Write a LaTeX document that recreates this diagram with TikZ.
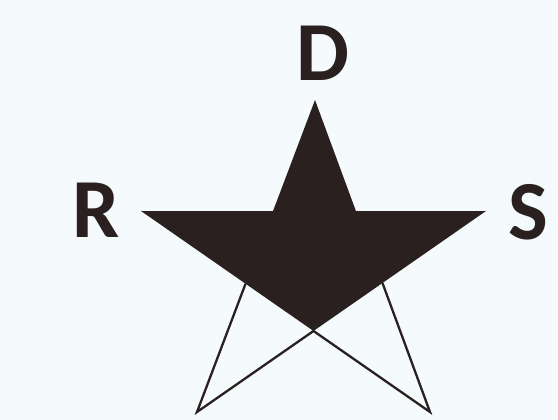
\documentclass[tikz,border=0pt]{standalone}
\usepackage{fontspec}
\setmainfont{Carlito}
\definecolor{paper}{RGB}{245,251,252}
\definecolor{ink}{RGB}{42,32,32}
\tikzset{
  lbl/.style={inner sep=0pt, text=ink, font=\fontsize{84}{84}\bfseries\selectfont},
  leg/.style={draw=ink, line width=2.3pt, line join=miter}
}
\begin{document}
\begin{tikzpicture}[x=1pt,y=-1pt]
  \fill[paper] (0,0) rectangle (558,420);
  \useasboundingbox (0,0) rectangle (558,420);
  % points of the star
  \coordinate (top) at (315,100);
  \coordinate (lt) at (141,211);
  \coordinate (rt) at (486,211);
  \coordinate (bl) at (197,412);
  \coordinate (br) at (430,412);
  \coordinate (inl) at (intersection of top--bl and lt--rt);
  \coordinate (inr) at (intersection of top--br and lt--rt);
  \coordinate (c) at (intersection of lt--br and rt--bl);
  \coordinate (legl) at (intersection of top--bl and lt--br);
  \coordinate (legr) at (intersection of top--br and rt--bl);
  % filled part
  \fill[ink] (top) -- (inr) -- (rt) -- (c) -- (lt) -- (inl) -- cycle;
  % open legs
  \draw[leg] (legl) -- (bl) -- (c);
  \draw[leg] (legr) -- (br) -- (c);
  % letters
  \node[lbl] (d) at (323,53) {D};
  \node[lbl] (r) at (96,210) {R};
  \node[lbl] (s) at (528,212) {S};
\end{tikzpicture}
\end{document}
